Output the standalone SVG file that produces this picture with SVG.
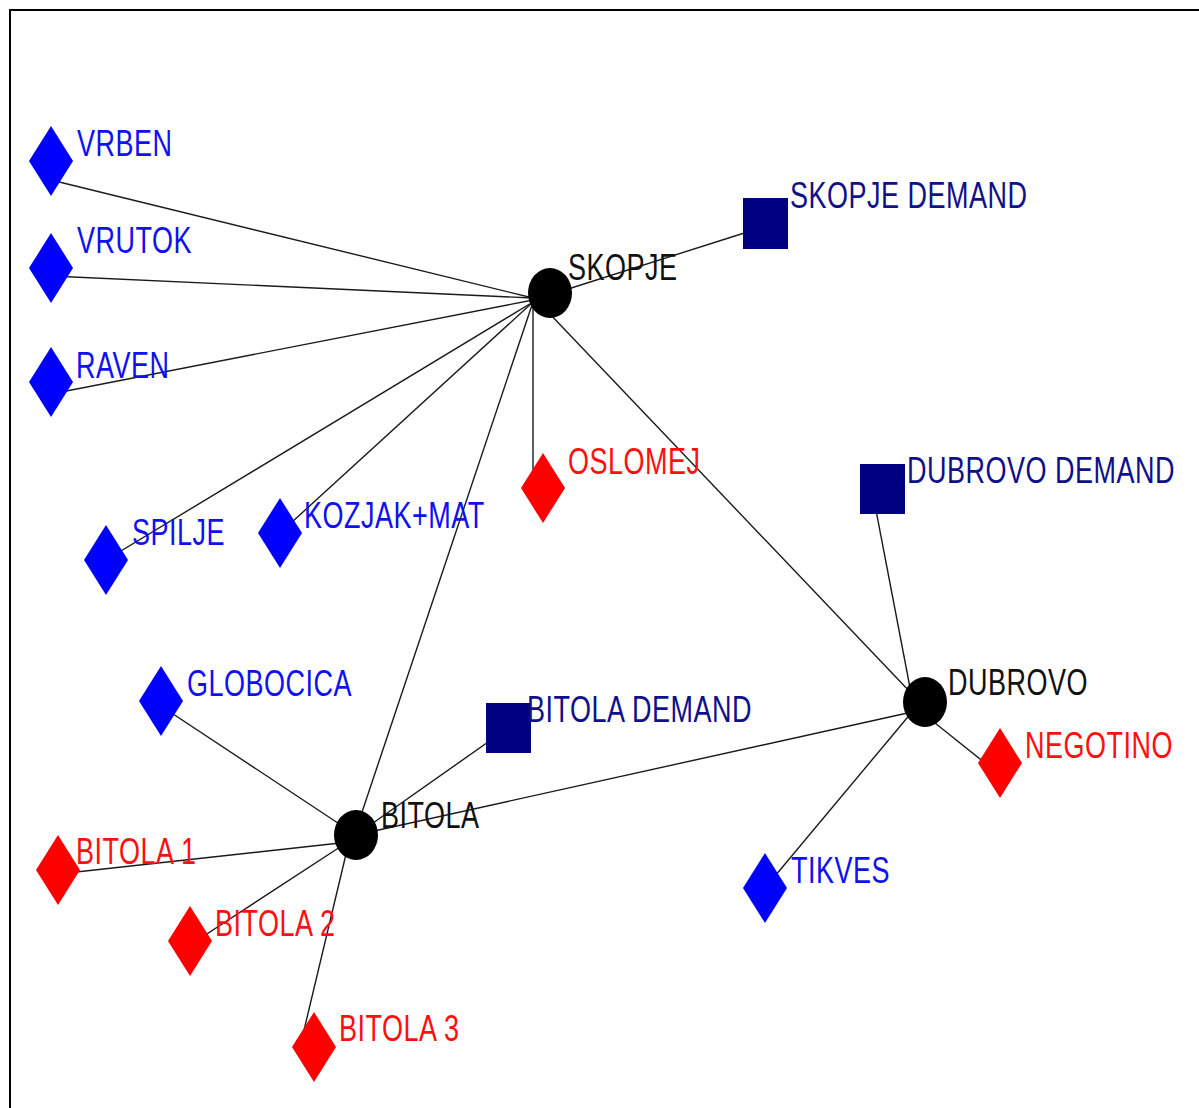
<svg xmlns="http://www.w3.org/2000/svg" width="1199" height="1108" viewBox="0 0 1199 1108">
<style>
text{font-family:"Liberation Sans",Arial,sans-serif;font-size:27px;letter-spacing:0.5px}
.b{fill:#0000ff}.r{fill:#ff0000}.n{fill:#000080}.k{fill:#000000}
.lb{fill:#1010f0}.lr{fill:#ff1010}.ln{fill:#10108a}.lk{fill:#111111}
#edges line{stroke:#1a1a1a;stroke-width:1.4}
</style>
<defs>
<polygon id="dia" points="0,-35 22,0 0,35 -22,0"/>
</defs>
<rect x="10" y="10" width="1200" height="1110" fill="#ffffff" stroke="#000000" stroke-width="2"/>
<g id="edges">
<line x1="51" y1="180" x2="533" y2="298"/>
<line x1="51" y1="276" x2="533" y2="298"/>
<line x1="51" y1="394" x2="533" y2="300"/>
<line x1="106" y1="560" x2="533" y2="302"/>
<line x1="280" y1="533" x2="533" y2="302"/>
<line x1="533" y1="300" x2="533" y2="470"/>
<line x1="356" y1="830" x2="533" y2="302"/>
<line x1="548" y1="312" x2="912" y2="694"/>
<line x1="565" y1="290" x2="760" y2="228"/>
<line x1="875" y1="505" x2="912" y2="698"/>
<line x1="356" y1="835" x2="912" y2="712"/>
<line x1="925" y1="715" x2="1000" y2="775"/>
<line x1="912" y1="712" x2="765" y2="888"/>
<line x1="161" y1="706" x2="356" y2="835"/>
<line x1="508" y1="728" x2="356" y2="835"/>
<line x1="58" y1="874" x2="340" y2="843"/>
<line x1="190" y1="945" x2="340" y2="847"/>
<line x1="300" y1="1047" x2="347" y2="850"/>
</g>
<g id="n-vrben"><use href="#dia" x="51" y="161" class="b"/><text class="lb" transform="translate(77,156) scale(1,1.35)">VRBEN</text></g>
<g id="n-vrutok"><use href="#dia" x="51" y="268" class="b"/><text class="lb" transform="translate(77,253) scale(1,1.35)">VRUTOK</text></g>
<g id="n-raven"><use href="#dia" x="51" y="382" class="b"/><text class="lb" transform="translate(76,378) scale(1,1.35)">RAVEN</text></g>
<g id="n-spilje"><use href="#dia" x="106" y="560" class="b"/><text class="lb" transform="translate(132,545) scale(1,1.35)">SPILJE</text></g>
<g id="n-kozjak"><use href="#dia" x="280" y="533" class="b"/><text class="lb" transform="translate(304,528) scale(1,1.35)">KOZJAK+MAT</text></g>
<g id="n-oslomej"><use href="#dia" x="543" y="488" class="r"/><text class="lr" transform="translate(568,474) scale(1,1.35)">OSLOMEJ</text></g>
<g id="n-globocica"><use href="#dia" x="161" y="701" class="b"/><text class="lb" transform="translate(187,696) scale(1,1.35)">GLOBOCICA</text></g>
<g id="n-bitola1"><use href="#dia" x="58" y="870" class="r"/><text class="lr" transform="translate(76,864) scale(1,1.35)">BITOLA 1</text></g>
<g id="n-bitola2"><use href="#dia" x="190" y="941" class="r"/><text class="lr" transform="translate(215,936) scale(1,1.35)">BITOLA 2</text></g>
<g id="n-bitola3"><use href="#dia" x="314" y="1047" class="r"/><text class="lr" transform="translate(339,1041) scale(1,1.35)">BITOLA 3</text></g>
<g id="n-tikves"><use href="#dia" x="765" y="888" class="b"/><text class="lb" transform="translate(791,883) scale(1,1.35)">TIKVES</text></g>
<g id="n-negotino"><use href="#dia" x="1000" y="763" class="r"/><text class="lr" transform="translate(1025,758) scale(1,1.35)">NEGOTINO</text></g>
<g id="n-skopje-demand"><rect x="743" y="198" width="45" height="51" class="n"/><text class="ln" transform="translate(790,208) scale(1,1.35)">SKOPJE DEMAND</text></g>
<g id="n-dubrovo-demand"><rect x="860" y="464" width="45" height="50" class="n"/><text class="ln" transform="translate(907,483) scale(1,1.35)">DUBROVO DEMAND</text></g>
<g id="n-bitola-demand"><rect x="486" y="703" width="45" height="50" class="n"/><text class="ln" transform="translate(527,722) scale(1,1.35)">BITOLA DEMAND</text></g>
<g id="n-skopje"><ellipse cx="550" cy="293" rx="22" ry="25" class="k"/><text class="lk" transform="translate(568,280) scale(1,1.35)">SKOPJE</text></g>
<g id="n-bitola"><ellipse cx="356" cy="835" rx="22" ry="25" class="k"/><text class="lk" transform="translate(381,828) scale(1,1.35)">BITOLA</text></g>
<g id="n-dubrovo"><ellipse cx="925" cy="702" rx="22" ry="25" class="k"/><text class="lk" transform="translate(948,695) scale(1,1.35)">DUBROVO</text></g>
</svg>
